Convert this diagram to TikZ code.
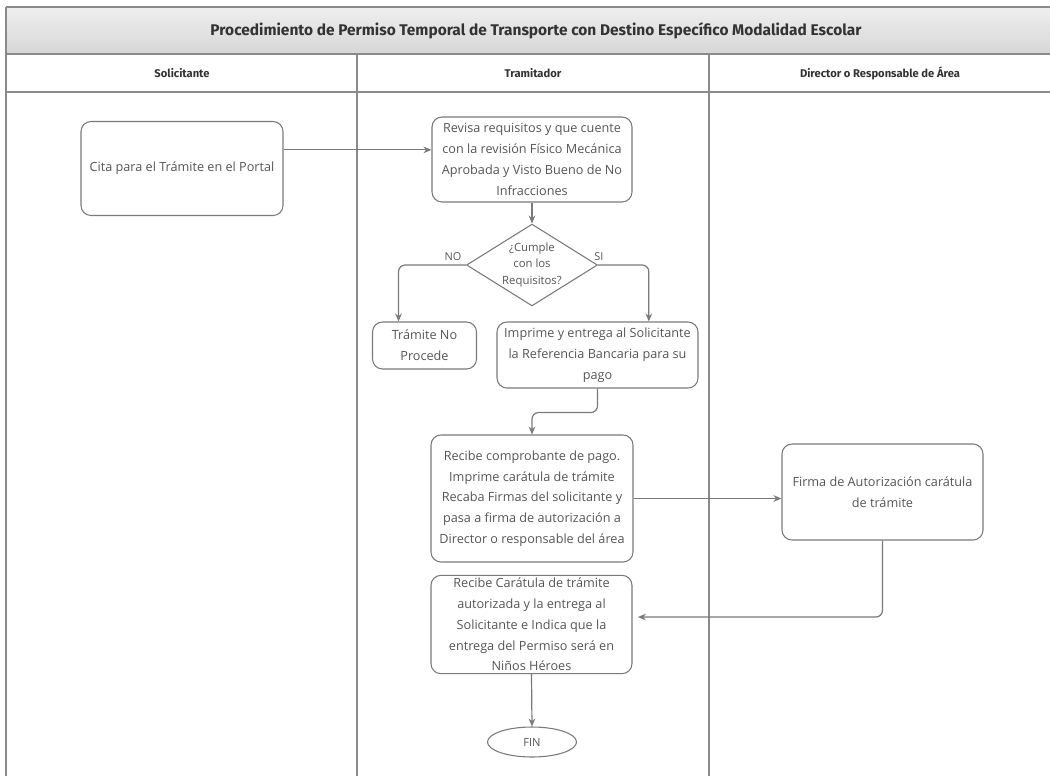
\documentclass[tikz,border=0pt]{standalone}
\usepackage{fontspec}
\setmainfont{Open Sans}
\newfontfamily\headfont{Fira Sans}
\usetikzlibrary{shapes.geometric,arrows.meta,calc}
\definecolor{lineg}{HTML}{8A8A8A}
\definecolor{edgeg}{HTML}{7A7A7A}
\definecolor{textg}{HTML}{555555}
\definecolor{bandtop}{HTML}{EFEFEF}
\definecolor{bandbot}{HTML}{D6D6D6}
\begin{document}
\begin{tikzpicture}[x=0.75pt,y=-0.75pt,
  every node/.style={text=textg},
  procbox/.style={draw=edgeg, line width=0.8pt, rounded corners=7.5pt, align=center,
    inner sep=2pt, font=\fontsize{9.5}{15.6}\selectfont},
  decbox/.style={draw=edgeg, line width=0.8pt, diamond, aspect=1.6, align=center,
    inner sep=0pt, font=\fontsize{8.5}{12.5}\selectfont},
  endbox/.style={draw=edgeg, line width=0.8pt, ellipse, font=\fontsize{8.4}{10}\selectfont},
  flow/.style={draw=edgeg, line width=0.9pt, rounded corners=5pt,
    -{Stealth[length=6pt,width=5pt]}},
  lane/.style={draw=lineg, line width=0.9pt},
  hdr/.style={font=\headfont\bfseries\fontsize{8.4}{10}\selectfont, text=black!80},
  lbl/.style={font=\fontsize{8.2}{10}\selectfont}
]
\useasboundingbox (0,0) rectangle (1050,776);

% title band and swimlane frame
\shade[top color=bandtop, bottom color=bandbot] (6,7) rectangle (1050,54);
\draw[lane] (6,7) -- (1050,7);
\draw[lane] (6,54) -- (1050,54);
\draw[lane] (6,92) -- (1050,92);
\draw[lane] (6,7) -- (6,776);
\draw[lane] (357,54) -- (357,776);
\draw[lane] (709,54) -- (709,776);

\node[font=\headfont\bfseries\fontsize{11.6}{13}\selectfont, text=black!80] (title) at (536,31)
  {Procedimiento de Permiso Temporal de Transporte con Destino Específico Modalidad Escolar};
\node[hdr] (hsol) at (182,73) {Solicitante};
\node[hdr] (htra) at (533,73) {Tramitador};
\node[hdr] (hdir) at (880,73) {Director o Responsable de Área};

% process steps
\node[procbox, minimum width=151.5pt, minimum height=70.5pt] (cita) at (182,168.5)
  {Cita para el Trámite en el Portal};
\node[procbox, minimum width=150pt, minimum height=63.75pt] (revisa) at (532,159.5)
  {Revisa requisitos y que cuente\\con la revisión Físico Mecánica\\Aprobada y Visto Bueno de No\\Infracciones};
\node[decbox, minimum width=90.75pt, minimum height=57pt] (dec) at (532,265)
  {¿Cumple\\con los\\Requisitos?};
\node[procbox, minimum width=78pt, minimum height=35.25pt] (noproc) at (424.5,345.5)
  {Trámite No\\Procede};
\node[procbox, minimum width=150.75pt, minimum height=49.5pt] (imprime) at (597.5,355)
  {Imprime y entrega al Solicitante\\la Referencia Bancaria para su\\pago};
\node[procbox, minimum width=151.5pt, minimum height=95.25pt] (recibe1) at (532,498.5)
  {Recibe comprobante de pago.\\Imprime carátula de trámite\\Recaba Firmas del solicitante y\\pasa a firma de autorización a\\Director o responsable del área};
\node[procbox, minimum width=150.75pt, minimum height=72pt] (firma) at (882.5,492)
  {Firma de Autorización carátula\\de trámite};
\node[procbox, minimum width=150.75pt, minimum height=69.75pt] (recibe2) at (531.5,624.5)
  {Recibe Carátula de trámite\\autorizada y la entrega al\\Solicitante e Indica que la\\entrega del Permiso será en\\Niños Héroes};
\node[endbox, minimum width=66.75pt, minimum height=22.5pt] (fin) at (532,742) {FIN};

% connectors
\draw[flow] ([yshift=14pt]cita.east) -- ([yshift=14pt]cita.east -| revisa.west);
\draw[flow] (revisa.south) -- (dec.north);
\draw[flow] (dec.west) -| ([xshift=-19.5pt]noproc.north);
\draw[flow] (dec.east) -| ([xshift=38.5pt]imprime.north);
\draw[flow] (imprime.south) -- ++(0,24) -| (recibe1.north);
\draw[flow] (recibe1.east) -- (recibe1.east -| firma.west);
\draw[flow, shorten >=4pt] (firma.south) |- ([yshift=5.6pt]recibe2.east);
\draw[flow] (recibe2.south) -- (fin.north);

\node[lbl] (lno) at (453,257) {NO};
\node[lbl] (lsi) at (599,257) {SI};
\end{tikzpicture}
\end{document}
